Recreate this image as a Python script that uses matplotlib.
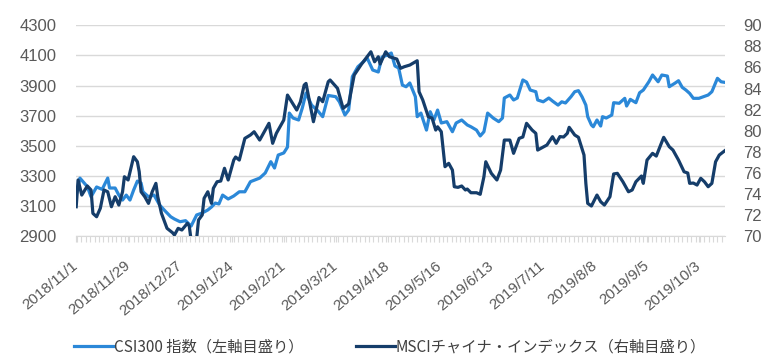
import numpy as np
import pandas as pd
import matplotlib
matplotlib.use("Agg")
import matplotlib.pyplot as plt
import matplotlib.dates as mdates
from matplotlib.ticker import FixedLocator, FuncFormatter, MultipleLocator

plt.rcParams["font.family"] = ["Liberation Sans", "DejaVu Sans"]

C_CSI = "#2B88D8"    # CSI300 (left axis)
C_MSCI = "#153D6A"   # MSCI China (right axis)
C_TXT = "#595959"
C_GRID = "#D9D9D9"

START = pd.Timestamp("2018-11-01")

# --- CSI300 index (left axis), day offsets from 2018/11/1 ---------------
csi_days = [0, 2, 6, 8, 11, 14, 17, 18, 21, 23, 25, 27, 29, 31, 33, 35, 36, 39,
            42, 45, 48, 51, 53, 56, 59, 62, 65, 68, 71, 73, 75, 77, 79, 82, 85,
            88, 91, 94, 99, 102, 105, 107, 109, 112, 114, 115, 117, 120, 122,
            124, 127, 130, 133, 136, 140, 142, 145, 147, 149, 152, 155, 157,
            160, 163, 165, 168, 170, 172, 174, 176, 178, 180, 183, 184, 186,
            189, 191, 193, 195, 197, 200, 203, 205, 208, 211, 213, 216, 218,
            220, 222, 225, 228, 230, 231, 234, 236, 238, 241, 243, 245, 248,
            249, 252, 255, 257, 260, 262, 264, 267, 269, 271, 273, 275, 276,
            278, 279, 281, 283, 284, 286, 289, 290, 293, 296, 297, 299, 302,
            304, 306, 309, 311, 314, 316, 319, 320, 323, 325, 327, 329, 331,
            333, 336, 341, 343, 346, 348, 350]
csi_vals = [3172, 3285, 3228, 3161, 3226, 3210, 3285, 3219, 3219, 3172, 3139,
            3172, 3139, 3206, 3265, 3252, 3194, 3161, 3172, 3106, 3066, 3028,
            3013, 2995, 3002, 2966, 3040, 3053, 3073, 3093, 3119, 3113, 3172,
            3146, 3166, 3194, 3194, 3261, 3285, 3319, 3394, 3352, 3438, 3452,
            3491, 3717, 3684, 3671, 3751, 3850, 3770, 3737, 3693, 3834, 3826,
            3792, 3704, 3737, 3959, 4025, 4058, 4083, 4003, 3990, 4089, 4103,
            4116, 4030, 4016, 3903, 3892, 3917, 3826, 3693, 3717, 3604, 3726,
            3671, 3737, 3651, 3660, 3593, 3651, 3671, 3638, 3626, 3604, 3565,
            3593, 3717, 3684, 3660, 3684, 3817, 3837, 3804, 3817, 3937, 3923,
            3870, 3859, 3804, 3792, 3817, 3797, 3770, 3792, 3784, 3826, 3859,
            3866, 3824, 3770, 3693, 3638, 3626, 3671, 3631, 3693, 3684, 3704,
            3786, 3782, 3815, 3764, 3808, 3786, 3852, 3870, 3925, 3970, 3925,
            3970, 3963, 3892, 3915, 3932, 3888, 3870, 3848, 3815, 3815, 3837,
            3859, 3948, 3925, 3921]

# --- MSCI China index (right axis) ---------------------------------------
msci_days = [0, 1, 3, 6, 8, 9, 11, 13, 15, 17, 19, 21, 23, 25, 26, 28, 31, 33,
             34, 35, 37, 39, 41, 43, 44, 46, 49, 52, 53, 55, 57, 60, 61, 62,
             65, 66, 68, 69, 71, 73, 74, 76, 78, 80, 82, 85, 86, 88, 91, 94,
             96, 99, 104, 106, 108, 112, 114, 119, 121, 123, 124, 128, 131,
             133, 136, 137, 141, 144, 147, 150, 154, 159, 161, 163, 164, 167,
             169, 173, 175, 177, 180, 184, 185, 187, 190, 192, 194, 195, 197,
             199, 201, 203, 204, 206, 208, 210, 211, 213, 216, 218, 220, 221,
             224, 227, 229, 231, 234, 236, 239, 241, 243, 246, 248, 249, 252,
             254, 257, 259, 261, 263, 265, 266, 269, 271, 274, 275, 276, 278,
             281, 283, 285, 288, 290, 292, 295, 298, 300, 302, 305, 306, 308,
             311, 313, 317, 320, 322, 325, 328, 330, 331, 333, 335, 337, 339,
             341, 343, 345, 347, 350]
msci_vals = [72.78, 75.32, 73.89, 74.75, 74.37, 72.15, 71.83, 72.63, 74.37,
             74.20, 72.78, 73.73, 72.94, 74.20, 75.63, 75.32, 77.53, 77.05,
             76.10, 74.20, 73.73, 73.10, 74.20, 75.00, 73.73, 72.15, 70.73,
             70.31, 70.10, 70.73, 70.57, 71.21, 70.95, 69.60, 69.80, 71.52,
             72.00, 73.58, 74.20, 73.10, 74.53, 75.15, 75.22, 76.43, 75.32,
             77.21, 77.50, 77.21, 79.27, 79.59, 79.90, 79.11, 80.70, 78.80,
             79.75, 81.01, 83.38, 81.96, 82.75, 84.33, 84.49, 80.85, 83.15,
             82.75, 84.65, 84.81, 84.02, 82.12, 82.53, 85.28, 86.33, 87.49,
             86.54, 87.02, 86.33, 87.49, 87.02, 86.80, 85.92, 86.07, 86.23,
             86.64, 83.70, 82.91, 81.32, 81.20, 80.06, 80.37, 79.90, 76.58,
             76.90, 76.26, 74.68, 74.62, 74.75, 74.37, 74.46, 74.11, 74.11,
             73.96, 75.63, 77.05, 75.95, 75.32, 76.26, 79.11, 79.11, 77.85,
             79.27, 79.40, 80.70, 80.06, 79.75, 78.16, 78.45, 78.64, 79.43,
             78.80, 79.44, 79.40, 79.75, 80.32, 79.59, 79.37, 77.69, 75.00,
             73.10, 72.85, 73.89, 73.26, 72.94, 73.73, 75.89, 75.95, 75.15,
             74.20, 74.37, 75.15, 75.70, 75.00, 77.21, 77.85, 77.59, 79.37,
             78.48, 78.16, 77.21, 76.10, 75.98, 75.00, 75.03, 74.84, 75.48,
             75.15, 74.68, 75.00, 77.05, 77.69, 78.10]

LEFT_TICKS = [2900, 3100, 3300, 3500, 3700, 3900, 4100, 4300]
RIGHT_TICKS = list(range(70, 91, 2))
LABEL_DAYS = list(range(0, 337, 28))   # 2018/11/1, 11/29, ... 2019/10/3

LEGEND = ["CSI300 指数（左軸目盛り）", "MSCIチャイナ・インデックス（右軸目盛り）"]

csi_dates = START + pd.to_timedelta(csi_days, unit="D")
msci_dates = START + pd.to_timedelta(msci_days, unit="D")

fig = plt.figure(figsize=(7.8, 3.62), dpi=100)
ax = fig.add_axes([0.097, 0.348, 0.833, 0.582])
ax2 = ax.twinx()

l1, = ax.plot(csi_dates, csi_vals, color=C_CSI, lw=2.3, solid_joinstyle="round")
l2, = ax2.plot(msci_dates, msci_vals, color=C_MSCI, lw=2.3, solid_joinstyle="round")

ax.set_ylim(2900, 4300)
ax2.set_ylim(70, 90)
ax.set_xlim(mdates.date2num(START) - 0.3, mdates.date2num(START) + 350.3)

ax.set_yticks(LEFT_TICKS)
ax2.set_yticks(RIGHT_TICKS)
ax.grid(axis="y", color=C_GRID, lw=1.0)
ax.set_axisbelow(True)

for a in (ax, ax2):
    for s in ("top", "left", "right"):
        a.spines[s].set_visible(False)
    a.spines["bottom"].set_color(C_GRID)
    a.tick_params(axis="y", length=0, labelsize=12, labelcolor=C_TXT)
ax.tick_params(axis="y", pad=14)
ax2.tick_params(axis="y", pad=13)
ax2.spines["bottom"].set_visible(False)

label_nums = [mdates.date2num(START + pd.Timedelta(days=d)) for d in LABEL_DAYS]
ax.xaxis.set_major_locator(FixedLocator(label_nums))
ax.xaxis.set_major_formatter(FuncFormatter(
    lambda v, p: (lambda d: f"{d.year}/{d.month}/{d.day}")(mdates.num2date(v))))
ax.xaxis.set_minor_locator(MultipleLocator(2.35))
ax.tick_params(axis="x", which="both", length=4, color=C_GRID, width=0.8,
               labelsize=11, labelcolor=C_TXT, pad=16, labelrotation=40)
plt.setp(ax.get_xticklabels(), ha="right", va="center", rotation_mode="anchor")

fig.legend([l1, l2], LEGEND, loc="center", bbox_to_anchor=(0.5, 0.041),
           ncol=2, frameon=False, handlelength=2.6, handletextpad=0.0,
           columnspacing=3.4, prop={"family": ["Noto Sans CJK JP", "DejaVu Sans"],
                                    "size": 11}, labelcolor="#404040")

fig.savefig("out.png", dpi=100)
